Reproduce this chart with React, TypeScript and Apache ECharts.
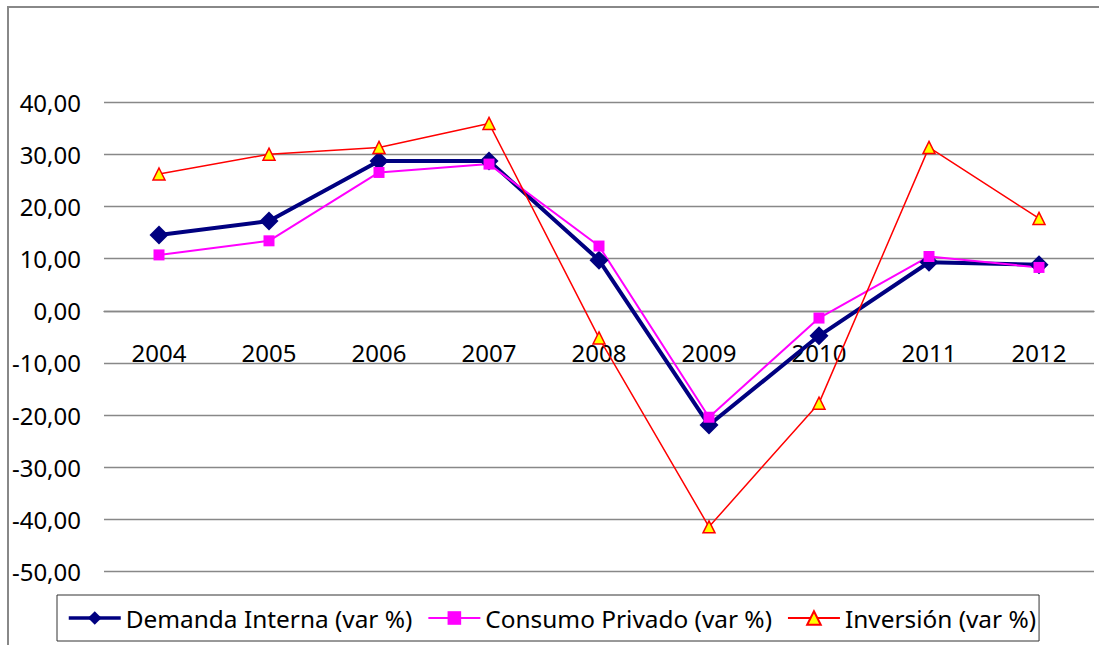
import React, { useEffect, useRef } from "react";
import * as echarts from "echarts";

const categories = ["2004", "2005", "2006", "2007", "2008", "2009", "2010", "2011", "2012"];
const demandaInterna = [14.5, 17.2, 28.7, 28.7, 9.7, -21.9, -4.8, 9.3, 8.8];
const consumoPrivado = [10.7, 13.4, 26.5, 28.1, 12.4, -20.4, -1.4, 10.4, 8.3];
const inversion = [26.2, 30.0, 31.3, 35.9, -5.2, -41.4, -17.7, 31.3, 17.7];
const seriesNames = ["Demanda Interna (var %)", "Consumo Privado (var %)", "Inversión (var %)"];
const yMin = -50;
const yMax = 40;

const FONT = "'Noto Sans', sans-serif";
const GRID_TOP = 102;
const GRID_BOTTOM = 73.3;
const CHART_H = 645;

export default function App() {
  const ref = useRef<HTMLDivElement>(null);
  useEffect(() => {
    if (!ref.current) return;
    const chart = echarts.init(ref.current, null, { renderer: "svg" });
    const plotH = CHART_H - GRID_TOP - GRID_BOTTOM;
    const zeroOffset = -(plotH * (0 - yMin)) / (yMax - yMin);
    chart.setOption({
      animation: false,
      backgroundColor: "#ffffff",
      textStyle: { fontFamily: FONT },
      graphic: [
        {
          type: "rect",
          shape: { x: 8, y: 7, width: 1200, height: 1000 },
          style: { fill: "none", stroke: "#888888", lineWidth: 2 },
          silent: true,
          z: 100,
        },
      ],
      grid: { left: 104, right: 5, top: GRID_TOP, bottom: GRID_BOTTOM, containLabel: false },
      legend: {
        left: 57,
        top: 595,
        itemWidth: 52,
        itemHeight: 17,
        itemGap: 15,
        padding: [11, 3, 11, 10],
        borderColor: "#333333",
        borderWidth: 1,
        textStyle: { fontSize: 24.4, color: "#000", fontFamily: FONT },
        data: [
          { name: seriesNames[0], lineStyle: { width: 3.5, color: "#000080" } },
          { name: seriesNames[1], lineStyle: { width: 2, color: "#FF00FF" } },
          { name: seriesNames[2], lineStyle: { width: 2, color: "#FF0000" } },
        ],
      },
      xAxis: {
        type: "category",
        data: categories,
        boundaryGap: true,
        position: "bottom",
        offset: zeroOffset,
        axisLine: { onZero: false, lineStyle: { color: "#888888", width: 1.4 } },
        axisTick: { show: false },
        axisLabel: { fontSize: 24, color: "#000", margin: 30, fontFamily: FONT },
        splitLine: { show: false },
      },
      yAxis: {
        type: "value",
        min: yMin,
        max: yMax,
        interval: 10,
        axisLine: { show: false },
        axisTick: { show: false },
        axisLabel: {
          fontSize: 24,
          color: "#000",
          margin: 23,
          fontFamily: FONT,
          formatter: (v: number) => v.toFixed(2).replace(".", ","),
        },
        splitLine: { show: true, lineStyle: { color: "#888888", width: 1.4 } },
      },
      series: [
        {
          name: seriesNames[0],
          type: "line",
          data: demandaInterna,
          symbol: "diamond",
          symbolSize: 19,
          lineStyle: { color: "#000080", width: 4 },
          itemStyle: { color: "#000080" },
        },
        {
          name: seriesNames[1],
          type: "line",
          data: consumoPrivado,
          symbol: "rect",
          symbolSize: 11,
          lineStyle: { color: "#FF00FF", width: 2 },
          itemStyle: { color: "#FF00FF" },
        },
        {
          name: seriesNames[2],
          type: "line",
          data: inversion,
          symbol: "triangle",
          symbolSize: 12,
          lineStyle: { color: "#FF0000", width: 1.5 },
          itemStyle: { color: "#FFFF00", borderColor: "#FF0000", borderWidth: 1.5 },
        },
      ],
    });
    return () => chart.dispose();
  }, []);
  return (
    <div
      ref={ref}
      style={{ position: "absolute", left: 0, top: 0, width: 1099, height: 645 }}
    />
  );
}
